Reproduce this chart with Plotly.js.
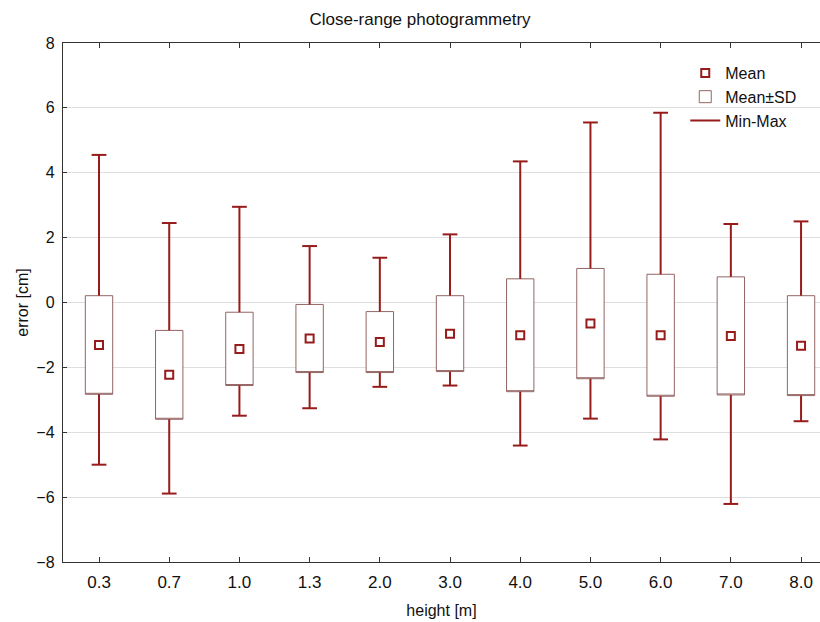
<!DOCTYPE html>
<html>
<head>
<meta charset="utf-8">
<script src="https://cdn.plot.ly/plotly-3.0.1.min.js"></script>
<style>html,body{margin:0;padding:0;background:#fff;}</style>
</head>
<body>
<div id="chart" style="width:820px;height:622px;"></div>
<script>
// Data
const heights = ["0.3", "0.7", "1.0", "1.3", "2.0", "3.0", "4.0", "5.0", "6.0", "7.0", "8.0"];
const means   = [-1.31, -2.23, -1.43, -1.11, -1.22, -0.96, -1.01, -0.65, -1.01, -1.03, -1.33];
const sds     = [1.52, 1.37, 1.13, 1.05, 0.94, 1.17, 1.74, 1.70, 1.88, 1.82, 1.54];
const maxs    = [4.55, 2.45, 2.95, 1.74, 1.38, 2.10, 4.35, 5.55, 5.85, 2.42, 2.50];
const mins    = [-5.00, -5.89, -3.49, -3.26, -2.60, -2.56, -4.41, -3.58, -4.22, -6.21, -3.66];

const idx = heights.map((_, i) => i);
const lo = means.map((m, i) => m - sds[i]);
const hi = means.map((m, i) => m + sds[i]);

const FONT = "Liberation Sans, Arial, sans-serif";
const RED = "#981b1b";
const BOXLINE = "#946464";
const capHalf = 0.105;

// whiskers (outside the SD box) with caps
const wx = [], wy = [];
idx.forEach(i => {
  wx.push(i, i, null, i - capHalf, i + capHalf, null, i, i, null, i - capHalf, i + capHalf, null);
  wy.push(maxs[i], hi[i], null, maxs[i], maxs[i], null, lo[i], mins[i], null, mins[i], mins[i], null);
});

const traces = [
  {
    type: "box",
    name: "Mean±SD",
    x: idx,
    q1: lo, q3: hi, median: lo,
    lowerfence: lo, upperfence: hi,
    width: 0.39,
    whiskerwidth: 0,
    fillcolor: "rgba(255,255,255,1)",
    line: {color: BOXLINE, width: 1},
    boxpoints: false,
    hoverinfo: "skip",
    legendrank: 2,
    showlegend: true
  },
  {
    type: "scatter",
    mode: "lines",
    name: "Min-Max",
    x: wx, y: wy,
    line: {color: RED, width: 2},
    connectgaps: false,
    hoverinfo: "skip",
    legendrank: 3
  },
  {
    type: "scatter",
    mode: "markers",
    name: "Mean",
    x: idx, y: means,
    marker: {symbol: "square-open", size: 8, color: RED, line: {width: 2, color: RED}},
    hoverinfo: "skip",
    legendrank: 1
  }
];

const layout = {
  width: 820, height: 622,
  margin: {l: 63, r: 0, t: 43, b: 60},
  paper_bgcolor: "#fff", plot_bgcolor: "#fff",
  font: {family: FONT, size: 16, color: "#111"},
  title: {text: "Close-range photogrammetry", font: {family: FONT, size: 17, color: "#111"},
          xref: "paper", x: 0.4716, xanchor: "center", y: 0.97, yanchor: "middle"},
  showlegend: true,
  legend: {
    x: 0.822, y: 0.975, xanchor: "left", yanchor: "top",
    bgcolor: "rgba(255,255,255,0)", borderwidth: 0,
    font: {family: FONT, size: 16, color: "#111"},
    tracegroupgap: 0, itemwidth: 30
  },
  boxmode: "overlay",
  xaxis: {
    range: [-0.513, 10.27],
    tickmode: "array", tickvals: idx, ticktext: heights,
    showgrid: false, zeroline: false,
    showline: true, linecolor: "#333", linewidth: 1.2,
    mirror: "ticks",
    ticks: "inside", ticklen: 5, tickcolor: "#333",
    ticklabelstandoff: 4,
    tickfont: {family: FONT, size: 17, color: "#111"},
    title: {text: "height [m]", font: {family: FONT, size: 16, color: "#111"}, standoff: 14}
  },
  yaxis: {
    range: [-8, 8],
    tickvals: [-8, -6, -4, -2, 0, 2, 4, 6, 8],
    showgrid: true, gridcolor: "#dedede", gridwidth: 1,
    zeroline: false,
    showline: true, linecolor: "#333", linewidth: 1.2,
    ticks: "inside", ticklen: 4, tickcolor: "#333",
    ticklabelstandoff: 4,
    tickfont: {family: FONT, size: 16, color: "#111"},
    title: {text: "error [cm]", font: {family: FONT, size: 16, color: "#111"}, standoff: 3}
  }
};

Plotly.newPlot("chart", traces, layout, {displayModeBar: false, staticPlot: true});
</script>
</body>
</html>
